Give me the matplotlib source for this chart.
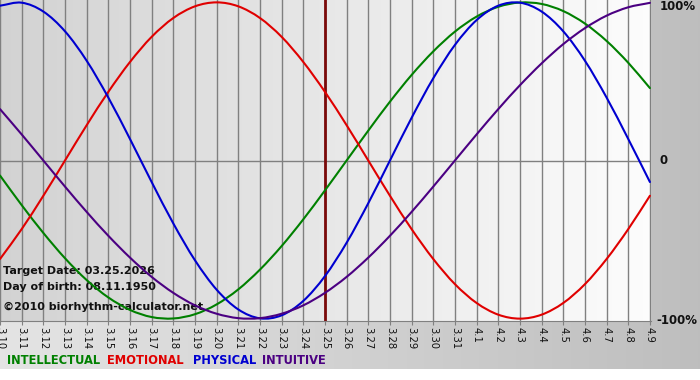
import numpy as np
import matplotlib
matplotlib.use('Agg')
from matplotlib import pyplot as plt
from matplotlib.path import Path
from matplotlib.patches import PathPatch

# day labels on the x axis (m.d)
day_labels = ['3.10', '3.11', '3.12', '3.13', '3.14', '3.15', '3.16', '3.17', '3.18', '3.19',
              '3.20', '3.21', '3.22', '3.23', '3.24', '3.25', '3.26', '3.27', '3.28', '3.29',
              '3.30', '3.31', '4.1', '4.2', '4.3', '4.4', '4.5', '4.6', '4.7', '4.8', '4.9']
target_index = 15  # 3.25

# daily values (-1 .. 1)
physical = [0.979, 0.998, 0.942, 0.817, 0.631, 0.398, 0.136, -0.136, -0.398, -0.631,
            -0.817, -0.942, -0.998, -0.979, -0.888, -0.731, -0.520, -0.270, 0.000, 0.270,
            0.520, 0.731, 0.888, 0.979, 0.998, 0.942, 0.817, 0.631, 0.398, 0.136, -0.136]
emotional = [-0.623, -0.434, -0.223, 0.000, 0.223, 0.434, 0.623, 0.782, 0.901, 0.975,
             1.000, 0.975, 0.901, 0.782, 0.623, 0.434, 0.223, 0.000, -0.223, -0.434,
             -0.623, -0.782, -0.901, -0.975, -1.000, -0.975, -0.901, -0.782, -0.623, -0.434, -0.223]
intellectual = [-0.095, -0.282, -0.458, -0.618, -0.756, -0.866, -0.945, -0.990, -0.999, -0.972,
                -0.910, -0.815, -0.690, -0.541, -0.372, -0.189, 0.000, 0.189, 0.372, 0.541,
                0.690, 0.815, 0.910, 0.972, 0.999, 0.990, 0.945, 0.866, 0.756, 0.618, 0.458]
intuitive = [0.325, 0.165, 0.000, -0.165, -0.325, -0.476, -0.614, -0.736, -0.837, -0.916,
             -0.969, -0.997, -0.997, -0.969, -0.916, -0.837, -0.736, -0.614, -0.476, -0.325,
             -0.165, 0.000, 0.165, 0.325, 0.476, 0.614, 0.736, 0.837, 0.916, 0.969, 0.997]

GREEN = '#008000'
RED = '#e00000'
BLUE = '#0000d0'
PURPLE = '#4b0082'


def smooth_line(ax, xs, ys, color):
    # draw a smooth bezier curve through the daily points (Catmull-Rom handles)
    xs = np.asarray(xs, float)
    ys = np.asarray(ys, float)
    px = np.concatenate([[2 * xs[0] - xs[1]], xs, [2 * xs[-1] - xs[-2]]])
    py = np.concatenate([[2 * ys[0] - ys[1]], ys, [2 * ys[-1] - ys[-2]]])
    verts = [(xs[0], ys[0])]
    codes = [Path.MOVETO]
    for i in range(1, len(px) - 2):
        c1 = (px[i] + (px[i + 1] - px[i - 1]) / 6, py[i] + (py[i + 1] - py[i - 1]) / 6)
        c2 = (px[i + 1] - (px[i + 2] - px[i]) / 6, py[i + 1] - (py[i + 2] - py[i]) / 6)
        verts += [c1, c2, (px[i + 1], py[i + 1])]
        codes += [Path.CURVE4] * 3
    ax.add_patch(PathPatch(Path(verts, codes), fill=False, edgecolor=color,
                           lw=1.5, zorder=4, capstyle='round'))


W, H = 700, 380
fig = plt.figure(figsize=(W / 100, H / 100), dpi=100)

# figure background: horizontal gray gradient with a white strip at the bottom
bg = fig.add_axes([0, 0, 1, 1], zorder=-10)
grad = np.linspace(0.895, 0.745, 256).reshape(1, -1)
bg.imshow(np.dstack([grad] * 3), aspect='auto', extent=(0, 1, 0, 1))
bg.axhspan(0, 11 / H, color='white', lw=0)
bg.set_xlim(0, 1)
bg.set_ylim(0, 1)
bg.axis('off')

ax = fig.add_axes([0, 1 - 321 / H, 651 / W, 321 / H])
x = np.arange(len(day_labels))
xmax = len(day_labels) - 1 + 0.05
ax.set_xlim(0, xmax)
ax.set_ylim(-1.015, 1.015)

# plot area gradient
pg = np.linspace(0.825, 0.99, 256).reshape(1, -1)
ax.imshow(np.dstack([pg] * 3), aspect='auto', extent=(0, xmax, -1.015, 1.015), zorder=0)

for xi in x:
    ax.axvline(xi, color='#808080', lw=1, zorder=1)
ax.axhline(0, color='#808080', lw=1, zorder=1)

ax.axvline(target_index, color='#7a0a0a', lw=2, zorder=2)

note = dict(transform=ax.transAxes, fontsize=8, fontweight='bold', va='center',
            color='#111111', zorder=3)
ax.text(0.004, 1 - 271 / 321, 'Target Date: 03.25.2026', **note)
ax.text(0.004, 1 - 287 / 321, 'Day of birth: 08.11.1950', **note)
ax.text(0.004, 1 - 307 / 321, '\u00a92010 biorhythm-calculator.net', **note)

smooth_line(ax, x, intellectual, GREEN)
smooth_line(ax, x, emotional, RED)
smooth_line(ax, x, physical, BLUE)
smooth_line(ax, x, intuitive, PURPLE)

for s in ['top', 'left', 'right']:
    ax.spines[s].set_visible(False)
ax.spines['bottom'].set_color('#808080')

ax.set_xticks(x)
ax.set_xticklabels(day_labels, rotation=-90, fontsize=7.2, color='#111111')
ax.tick_params(axis='x', length=3, color='#808080', pad=1)
ax.set_yticks([])

# right side percentage labels
pct = dict(transform=ax.transAxes, fontsize=8.5, fontweight='bold', ha='left',
           color='#111111')
ax.text(1.013, 1.0, '100%', va='top', **pct)
ax.text(1.013, 0.5, '0', va='center', **pct)
ax.text(1.008, 0.0, '-100%', va='center', **pct)

# legend row of coloured words
legend = [('INTELLECTUAL', GREEN, 7), ('EMOTIONAL', RED, 107),
          ('PHYSICAL', BLUE, 193), ('INTUITIVE', PURPLE, 262)]
for word, col, px in legend:
    fig.text(px / W, 1 - 361 / H, word, color=col, fontsize=8.3, fontweight='bold',
             va='center', ha='left')

fig.savefig('out.png', dpi=100)
